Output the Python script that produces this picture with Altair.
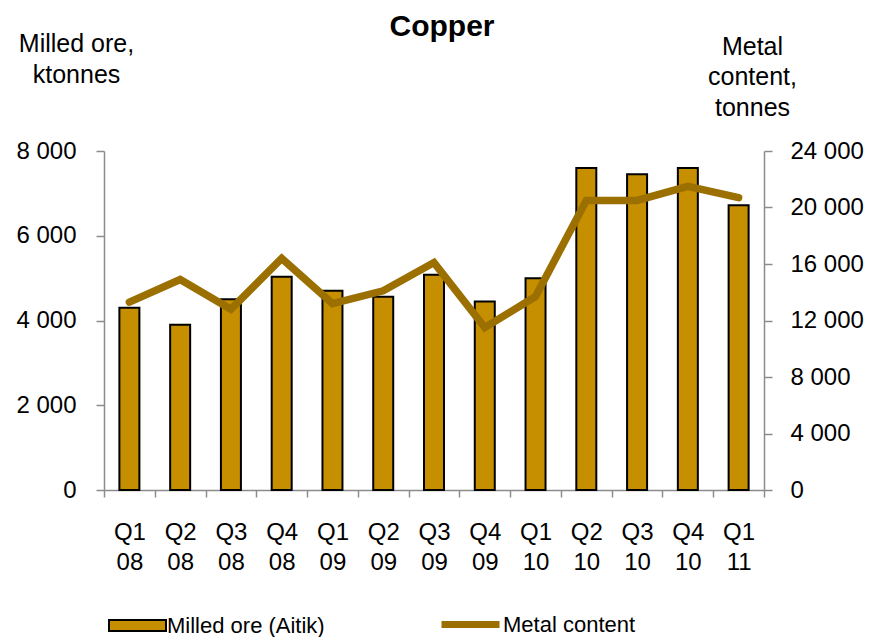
import altair as alt
import pandas as pd

quarters = ["Q1 08", "Q2 08", "Q3 08", "Q4 08", "Q1 09", "Q2 09", "Q3 09",
            "Q4 09", "Q1 10", "Q2 10", "Q3 10", "Q4 10", "Q1 11"]
milled_ore = [4300, 3900, 4500, 5030, 4700, 4560, 5080, 4450, 5000, 7600, 7450, 7600, 6720]
metal_content = [13300, 14900, 12800, 16400, 13200, 14100, 16100, 11500, 13700,
                 20500, 20500, 21500, 20700]
left_ticks = [0, 2000, 4000, 6000, 8000]
right_ticks = [0, 4000, 8000, 12000, 16000, 20000, 24000]
series_names = ["Milled ore (Aitik)", "Metal content"]

df = pd.DataFrame({"quarter": quarters, "milled": milled_ore, "metal": metal_content,
                   "s_bar": series_names[0], "s_line": series_names[1]})

FONT = "Liberation Sans"
AXIS_GREY = "#8c8c8c"
BAR_COLOR = "#C68F00"
LINE_COLOR = "#9B6F00"
fmt = "replace(format(datum.value, ','), ',', ' ')"

x_enc = alt.X(
    "quarter:N", sort=quarters,
    scale=alt.Scale(paddingInner=0, paddingOuter=0),
    axis=alt.Axis(title=None, labelAngle=0, labelExpr="split(datum.label, ' ')",
                  tickBand="extent", tickSize=7, tickColor=AXIS_GREY, tickWidth=1.5,
                  domainColor=AXIS_GREY, domainWidth=1.5, labelPadding=23,
                  labelFontSize=24, labelLineHeight=30, labelBaseline="top",
                  labelFont=FONT, labelColor="black"),
)

bars = alt.Chart(df).mark_bar(size=20, stroke="black", strokeWidth=2).encode(
    x=x_enc,
    y=alt.Y("milled:Q", scale=alt.Scale(domain=[0, 8000], nice=False),
            axis=alt.Axis(values=left_ticks, labelExpr=fmt, grid=False,
                          title=["Milled ore,", "ktonnes"], titleAngle=0,
                          titleAlign="center", titleBaseline="alphabetic",
                          titleX=-28, titleY=-100, titleFontSize=25,
                          titleFontWeight="normal", titleLineHeight=31,
                          titleFont=FONT, titleColor="black",
                          tickSize=8, tickColor=AXIS_GREY, tickWidth=1.5,
                          domainColor=AXIS_GREY, domainWidth=1.5,
                          labelPadding=20, labelFontSize=24, labelFont=FONT,
                          labelColor="black")),
    fill=alt.Fill("s_bar:N",
                  scale=alt.Scale(domain=[series_names[0]], range=[BAR_COLOR]),
                  legend=alt.Legend(title=None, orient="none", legendX=4, legendY=445,
                                    symbolType="M-1,-0.19L1,-0.19L1,0.19L-1,0.19Z",
                                    symbolSize=3249, symbolStrokeColor="black",
                                    symbolStrokeWidth=2, symbolFillColor=BAR_COLOR,
                                    labelFontSize=22, labelFont=FONT, labelOffset=0,
                                    labelColor="black", padding=0)),
)

line = alt.Chart(df).mark_line(strokeWidth=7.5, strokeCap="round").encode(
    x=x_enc,
    y=alt.Y("metal:Q", scale=alt.Scale(domain=[0, 24000], nice=False),
            axis=alt.Axis(orient="right", values=right_ticks, labelExpr=fmt, grid=False,
                          title=["Metal", "content,", "tonnes"], titleAngle=0,
                          titleAlign="center", titleBaseline="alphabetic",
                          titleX=-12, titleY=-97, titleFontSize=25,
                          titleFontWeight="normal", titleLineHeight=30.5,
                          titleFont=FONT, titleColor="black",
                          tickSize=8, tickColor=AXIS_GREY, tickWidth=1.5,
                          domainColor=AXIS_GREY, domainWidth=1.5,
                          labelPadding=18, labelFontSize=24, labelFont=FONT,
                          labelColor="black")),
    stroke=alt.Stroke("s_line:N",
                      scale=alt.Scale(domain=[series_names[1]], range=[LINE_COLOR]),
                      legend=alt.Legend(title=None, orient="none", legendX=334, legendY=441,
                                        symbolType="stroke", symbolSize=3364,
                                        symbolStrokeWidth=7, symbolStrokeColor=LINE_COLOR,
                                        labelFontSize=22, labelFont=FONT, labelOffset=0,
                                        labelColor="black", padding=0)),
)

chart = alt.layer(bars, line).resolve_scale(y="independent").properties(
    width=660, height=339,
    background="white",
    title=alt.TitleParams("Copper", fontSize=30, fontWeight="bold", font=FONT,
                          anchor="middle", dx=8, dy=15, color="black"),
    autosize=alt.AutoSizeParams(type="none"),
    padding={"left": 96, "top": 143, "right": 100, "bottom": 200},
).configure_view(stroke=None, strokeWidth=0)

chart.save("out.html", embed_options={"renderer": "svg", "actions": False})
